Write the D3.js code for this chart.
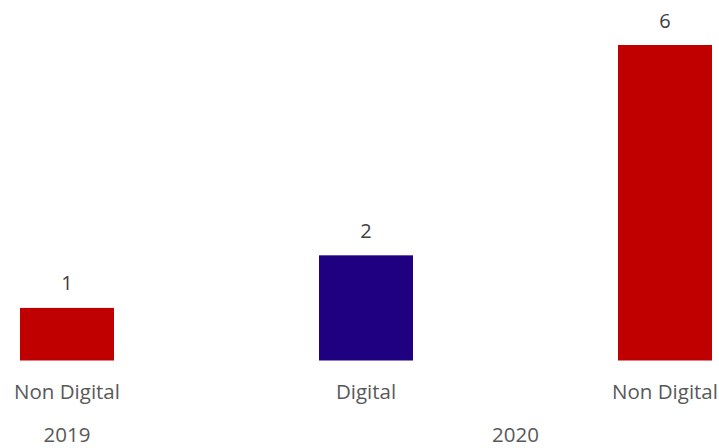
<!DOCTYPE html>
<html><head><meta charset="utf-8">
<script src="https://cdn.jsdelivr.net/npm/d3@7"></script>
<style>html,body{margin:0;padding:0;background:#fff;}svg{display:block;}</style>
</head><body>
<svg id="c" width="719" height="448"></svg>
<script>
const categories = ["Non Digital", "Digital", "Non Digital"];
const values = [1, 2, 6];
const colors = ["#C00000", "#1F0080", "#C00000"];
const yearGroups = [{year: "2019", idx: [0]}, {year: "2020", idx: [1, 2]}];

const svg = d3.select("#c");
const font = "'Open Sans', sans-serif";
const ids = categories.map((c, i) => i);
const x = d3.scaleBand().domain(ids).range([20, 712]).paddingInner(0.6856).paddingOuter(0);
const y = d3.scaleLinear().domain([0, 6]).range([360.5, 45]);

svg.selectAll("rect.bar").data(ids).join("rect")
  .attr("class", "bar")
  .attr("x", i => x(i)).attr("width", x.bandwidth())
  .attr("y", i => y(values[i])).attr("height", i => y(0) - y(values[i]))
  .attr("fill", i => colors[i]);

svg.selectAll("text.val").data(ids).join("text")
  .attr("class", "val")
  .attr("x", i => x(i) + x.bandwidth() / 2)
  .attr("y", i => y(values[i]) - 17.5)
  .attr("text-anchor", "middle")
  .attr("font-family", font).attr("font-size", 20).attr("fill", "#404040")
  .text(i => values[i]);

svg.selectAll("text.cat").data(ids).join("text")
  .attr("class", "cat")
  .attr("x", i => x(i) + x.bandwidth() / 2)
  .attr("y", 399)
  .attr("text-anchor", "middle")
  .attr("font-family", font).attr("font-size", 20.5).attr("fill", "#595959")
  .text(i => categories[i]);

svg.selectAll("text.yr").data(yearGroups).join("text")
  .attr("class", "yr")
  .attr("x", g => d3.mean(g.idx, i => x(i) + x.bandwidth() / 2))
  .attr("y", 442)
  .attr("text-anchor", "middle")
  .attr("font-family", font).attr("font-size", 20.5).attr("fill", "#595959")
  .text(g => g.year);
</script>
</body></html>
